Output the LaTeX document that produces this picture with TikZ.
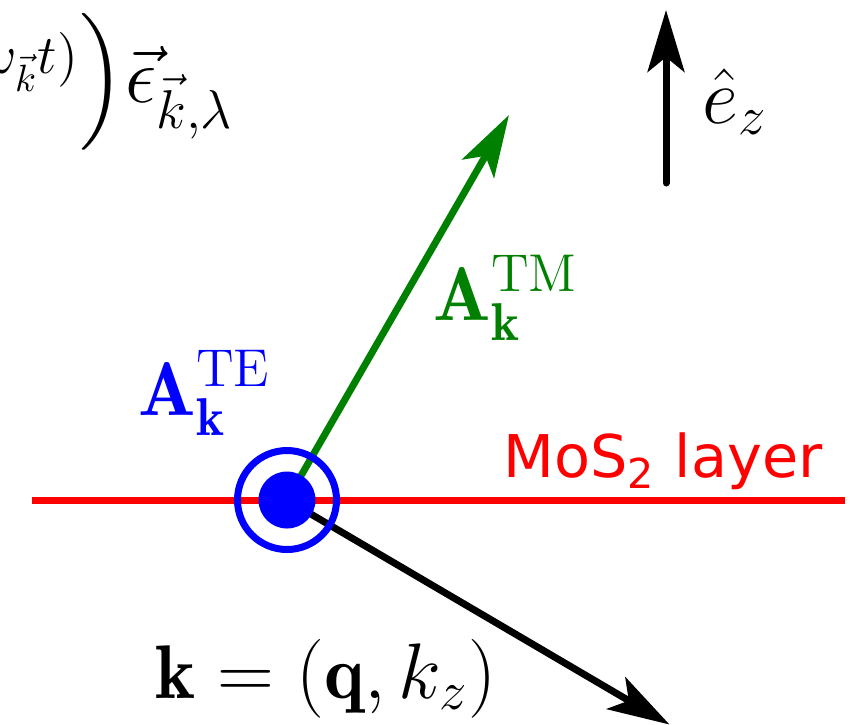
\documentclass[tikz,border=0pt]{standalone}
\usepackage{amsmath,amssymb}
\usepackage{fontspec}
\newfontfamily\layerfont{DejaVu Sans}
\usepackage{tikz}
\usetikzlibrary{arrows.meta}

\definecolor{tmgreen}{RGB}{0,128,0}

\begin{document}
\begin{tikzpicture}[x=0.925cm,y=0.925cm,
  every node/.style={inner sep=0pt,font=\fontsize{20}{24}\selectfont},
  vec/.style={line width=1.84pt,line cap=round,
    -{Stealth[length=16.3pt,width=9.7pt,inset=3.9pt]}},
  layer/.style={red,line width=1.84pt}]
  % Frame of the picture; the point of incidence sits at the origin.
  \useasboundingbox (-2.87,-2.24) rectangle (5.80,5.00);
  \def\rring{0.495}
  \def\rdot{0.285}

  \coordinate (O) at (0,0);
  \coordinate (layerL) at (-2.55,0);
  \coordinate (layerR) at (5.58,0);
  \coordinate (tmTip) at (2.22,3.85);
  \coordinate (kTip) at (3.825,-2.245);
  \coordinate (ezBase) at (3.79,3.17);
  \coordinate (ezTip) at (3.79,4.90);

  % The monolayer and its label.
  \draw[layer] (layerL) -- (layerR);
  \node[anchor=base west,red,font=\layerfont\fontsize{15.5}{18}\selectfont]
    (layerlab) at (2.16,0.23) {MoS\textsubscript{2} layer};

  % Wave vector and TM polarisation start below the TE marker.
  \draw[vec,tmgreen] (O) -- (tmTip);
  \draw[vec,black] (O) -- (kTip);
  \draw[vec,black] (ezBase) -- (ezTip);

  % TE polarisation points out of the plane of the drawing.
  \draw[blue,line width=1.84pt] (O) circle[radius=\rring];
  \fill[blue] (O) circle[radius=\rdot];

  \node[anchor=base west,blue] (telab) at (-1.49,0.85)
    {$\mathbf{A}_{\mathbf{k}}^{\mathrm{TE}}$};
  \node[anchor=base west,tmgreen] (tmlab) at (1.46,1.80)
    {$\mathbf{A}_{\mathbf{k}}^{\mathrm{TM}}$};
  \node[anchor=base west] (klab) at (-1.32,-1.98)
    {$\mathbf{k}=(\mathbf{q},k_z)$};
  \node[anchor=base west] (ezlab) at (4.15,3.77) {$\hat{e}_z$};
  \node[anchor=base east] (modelab) at (-0.52,3.98)
    {$\Big(e^{i(\vec{k}\cdot\vec{r}-\omega_{\vec{k}}t)}\Big)
      \vec{\epsilon}_{\vec{k},\lambda}$};
\end{tikzpicture}
\end{document}
